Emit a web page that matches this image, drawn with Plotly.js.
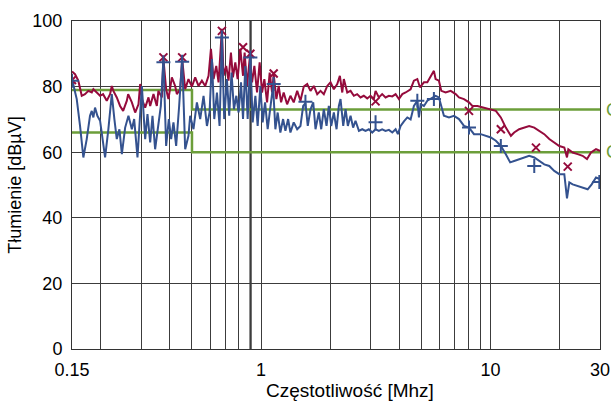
<!DOCTYPE html>
<html>
<head>
<meta charset="utf-8">
<script src="https://cdn.plot.ly/plotly-3.0.1.min.js"></script>
<style>
  html, body { margin: 0; padding: 0; background: #fff; }
  #chart { width: 611px; height: 405px; }
</style>
</head>
<body>
<div id="chart"></div>
<script>
// ---- Data (frequency in MHz, level in dBµV) ----
const freqPeak = [0.150,0.1546,0.1598,0.1654,0.1709,0.1767,0.1829,0.1859,0.1923,0.1988,
  0.2049,0.2126,0.2198,0.2236,0.2272,0.2351,0.2430,0.2506,0.2601,0.2635,
  0.2735,0.2827,0.2923,0.2973,0.3024,0.3126,0.3232,0.3287,0.3398,0.3514,
  0.3570,0.3695,0.3754,0.3858,0.3948,0.4085,0.4223,0.4296,0.4440,0.4531,
  0.4670,0.4827,0.4995,0.5164,0.5337,0.5523,0.5711,0.5904,0.6048,0.6209,
  0.6379,0.6529,0.6751,0.6861,0.7050,0.7214,0.7391,0.7540,0.7723,0.7904,
  0.8121,0.8345,0.8480,0.8689,0.8919,0.9137,0.9350,0.9606,0.9860,1.0101,
  1.0337,1.0621,1.0904,1.1168,1.1349,1.1661,1.1934,1.2226,1.2549,1.2987,
  1.3427,1.3879,1.437,1.485,1.535,1.589,1.642,1.698,1.757,1.816,
  1.877,1.943,2.008,2.076,2.148,2.205,2.259,2.295,2.375,2.455,
  2.537,2.622,2.713,2.804,2.902,3.000,3.101,3.155,3.261,3.371,
  3.488,3.607,3.732,3.858,3.988,4.127,4.266,4.485,4.636,4.798,
  4.925,5.127,5.305,5.484,5.666,5.764,5.958,6.103,6.373,6.704,
  7.050,7.287,7.662,8.057,8.337,8.768,9.369,10.03,10.55,11.09,
  11.66,12.27,12.68,13.33,14.02,14.74,15.51,16.31,17.15,18.03,
  18.96,19.94,20.97,21.54,21.83,22.81,23.97,25.19,26.33,27.41,
  28.82,30.0];
const peak = [84.6,83.8,81.8,77.2,77.7,78.7,78.2,79.2,78.2,77.2,
  77.7,75.7,77.7,80.2,78.7,76.7,74.1,72.6,75.7,77.7,
  75.2,72.1,74.6,80.8,76.2,73.6,76.7,74.1,77.7,74.1,
  78.7,76.7,88.4,79.2,76.2,82.8,80.2,77.7,79.2,88.4,
  79.2,82.3,80.0,82.8,80.2,81.8,80.2,83.3,91.5,82.3,
  86.3,81.3,97.6,83.3,86.3,81.8,90.4,82.8,87.4,82.3,
  91.5,83.3,90.4,80.2,88.4,81.3,86.3,78.2,87.4,78.2,
  82.3,75.2,84.3,78.2,83.8,76.2,80.2,75.2,78.2,74.6,
  77.2,75.2,78.7,75.7,80.0,80.8,78.7,80.2,77.7,78.7,
  77.7,80.2,81.3,79.2,80.8,83.3,78.2,82.3,78.2,78.7,
  77.2,77.7,76.7,77.2,76.4,77.2,76.2,78.7,76.7,77.7,
  76.7,77.2,77.0,77.7,76.2,77.7,78.2,79.2,81.8,82.3,
  79.8,81.3,81.3,83.3,84.8,82.3,81.8,78.7,78.2,78.7,
  77.7,76.7,76.2,75.2,74.1,74.1,73.6,73.1,72.6,70.6,
  67.5,65.0,66.0,67.0,67.5,68.0,67.5,66.5,65.5,64.0,
  63.0,61.9,61.4,58.4,60.9,59.9,59.4,58.9,57.9,59.9,
  60.9,60.4];

const freqAvg = [0.150,0.1573,0.1626,0.1681,0.1739,0.1797,0.1829,0.1859,0.1890,0.1935,
  0.1988,0.2043,0.2091,0.2161,0.2236,0.2295,0.2351,0.2414,0.2474,0.2557,
  0.2643,0.2735,0.2799,0.2894,0.2973,0.3024,0.3126,0.3199,0.3287,0.3364,
  0.3454,0.3570,0.3658,0.3754,0.3858,0.3964,0.4057,0.4152,0.4266,0.4396,
  0.4531,0.4670,0.4827,0.4910,0.5076,0.5253,0.5430,0.5615,0.5810,0.5964,
  0.6110,0.6253,0.6424,0.6595,0.6751,0.6909,0.7099,0.7265,0.7435,0.7617,
  0.7802,0.7984,0.8179,0.8345,0.8540,0.8742,0.8982,0.9193,0.9446,0.9664,
  0.993,1.0162,1.0410,1.0686,1.0980,1.1281,1.1546,1.1815,1.2140,1.2475,
  1.2769,1.3120,1.3427,1.3879,1.437,1.485,1.526,1.561,1.598,1.642,
  1.688,1.727,1.785,1.829,1.877,1.929,1.974,2.022,2.076,2.133,
  2.183,2.220,2.281,2.335,2.389,2.455,2.519,2.580,2.670,2.760,
  2.853,2.949,3.052,3.155,3.261,3.371,3.488,3.607,3.732,3.858,
  3.948,4.057,4.194,4.339,4.485,4.636,4.798,4.876,4.960,5.127,
  5.305,5.578,5.764,5.958,6.103,6.265,6.591,6.930,7.287,7.662,
  8.057,8.472,9.064,9.531,10.03,10.55,11.09,11.66,12.18,12.68,
  13.33,14.02,14.74,15.51,16.31,17.15,18.03,18.96,19.94,20.97,
  21.54,22.05,22.81,23.97,25.19,26.51,27.60,28.82,30.0];
const avg = [82.3,76.2,68.0,58.4,64.0,71.1,72.6,70.6,73.6,71.1,
  69.6,64.0,58.4,67.0,77.7,70.1,64.0,67.0,59.4,67.5,
  71.1,67.0,70.1,58.4,70.1,80.2,64.0,71.6,63.0,71.1,
  60.9,69.6,74.1,88.4,61.9,70.1,64.0,69.1,61.9,74.1,
  88.4,60.9,65.0,71.1,67.0,75.2,70.1,77.2,68.0,72.1,
  88.4,70.1,78.2,68.0,95.5,70.1,82.3,71.1,84.3,73.1,
  77.2,72.1,81.3,70.1,86.3,70.1,88.9,69.1,77.2,68.0,
  80.2,69.1,75.2,67.0,74.1,80.2,67.0,72.1,66.0,70.1,
  66.5,70.1,66.0,69.1,67.0,68.0,74.1,75.0,68.0,73.0,
  75.2,67.0,72.1,67.0,73.1,68.0,74.1,68.0,72.1,67.0,
  74.1,76.2,68.0,73.1,68.0,71.1,67.5,69.6,66.5,67.0,
  66.5,67.0,66.0,67.0,66.5,67.0,66.5,66.8,66.0,67.0,
  65.5,68.0,69.4,70.6,70.0,74.1,75.7,70.6,74.6,74.1,
  75.7,76.7,77.2,76.7,74.1,71.1,70.6,71.1,70.1,68.0,
  67.5,65.5,65.5,65.0,64.5,63.5,61.9,59.4,56.9,57.3,
  57.9,58.4,58.9,58.4,57.3,56.3,55.8,54.3,53.3,53.3,
  45.9,50.8,50.2,49.7,49.2,48.7,50.2,52.3,51.8];

// Final measurement points
const qpFreq = [0.150,0.3754,0.4531,0.6751,0.8345,0.8982,1.1349,3.155,8.057,11.09,15.78,21.70];
const qpVal  = [82.0,88.9,88.9,97.0,92.0,90.0,84.0,75.5,72.6,67.0,61.4,55.6];
const avFreq = [0.150,0.3754,0.4531,0.6751,0.8982,1.1349,1.561,3.155,4.798,5.666,8.057,11.09,15.51,29.8];
const avVal  = [81.8,87.4,87.6,95.0,88.9,80.8,75.4,69.1,75.7,76.2,67.5,61.9,55.8,50.9];

// Limit lines (class A)
const limitFreq = [0.15, 0.5, 30];
const limitQP = [79, 73, 73];
const limitAV = [66, 60, 60];
const limitLabels = ['Class A QP', 'Class A AV'];

// Axis ticks and titles
const xTickVals = [0.15, 1, 10, 30];
const xTickText = ['0.15', '1', '10', '30'];
const xMinorGrid = [0.2,0.3,0.4,0.5,0.6,0.7,0.8,0.9,2,3,4,5,6,7,8,9,20];
const yTickVals = [0, 20, 40, 60, 80, 100];
const xTitle = 'Częstotliwość [Mhz]';
const yTitle = 'Tłumienie [dBµV]';

// ---- Styles ----
const RED = '#950b3c';
const BLUE = '#34528f';
const GREEN = '#6c9e3a';
const GRID = '#3c3c3c';
const FONT = 'Liberation Sans, Arial, sans-serif';

const traces = [
  { x: limitFreq, y: limitQP, mode: 'lines', line: { color: GREEN, width: 2.5, shape: 'hv' }, hoverinfo: 'skip' },
  { x: limitFreq, y: limitAV, mode: 'lines', line: { color: GREEN, width: 2.5, shape: 'hv' }, hoverinfo: 'skip' },
  { x: freqPeak, y: peak, mode: 'lines', line: { color: RED, width: 2 } },
  { x: freqAvg, y: avg, mode: 'lines', line: { color: BLUE, width: 2 } },
  { x: qpFreq, y: qpVal, mode: 'markers',
    marker: { symbol: 'x-thin', size: 8, color: RED, line: { color: RED, width: 2 } } },
  { x: avFreq, y: avVal, mode: 'markers',
    marker: { symbol: 'cross-thin', size: 10, color: BLUE, line: { color: BLUE, width: 2 } } }
];

const layout = {
  width: 611, height: 405,
  margin: { l: 72, r: 11, t: 21, b: 56, pad: 0 },
  paper_bgcolor: '#ffffff', plot_bgcolor: '#ffffff',
  showlegend: false,
  font: { family: FONT, color: '#000', size: 18 },
  xaxis: {
    type: 'log',
    range: [Math.log10(0.15), Math.log10(30)],
    tickmode: 'array', tickvals: xTickVals, ticktext: xTickText,
    tickfont: { size: 18, family: FONT, color: '#000' },
    ticks: 'outside', ticklen: 4, tickcolor: 'rgba(0,0,0,0)',
    showgrid: true, gridcolor: GRID, gridwidth: 1,
    minor: { tickmode: 'array', tickvals: xMinorGrid, showgrid: true, gridcolor: GRID, gridwidth: 1, ticks: '' },
    showline: true, linecolor: '#333', linewidth: 1, mirror: true,
    zeroline: false
  },
  yaxis: {
    range: [0, 100],
    tickmode: 'array', tickvals: yTickVals,
    tickfont: { size: 18, family: FONT, color: '#000' },
    ticks: 'outside', ticklen: 5, tickcolor: 'rgba(0,0,0,0)',
    showgrid: true, gridcolor: GRID, gridwidth: 1,
    showline: true, linecolor: '#333', linewidth: 1, mirror: true,
    zeroline: false,
    title: { text: yTitle, font: { size: 18, family: FONT, color: '#000' }, standoff: 6 }
  },
  shapes: [
    { type: 'line', xref: 'x', yref: 'paper', x0: 0.9, x1: 0.9, y0: 0, y1: 1,
      line: { color: '#000', width: 2 }, layer: 'below' }
  ],
  annotations: [
    { x: 0.5265, y: -0.128, xref: 'paper', yref: 'paper', text: xTitle,
      showarrow: false, xanchor: 'center', yanchor: 'middle',
      font: { size: 19, color: '#000', family: FONT } },
    { x: Math.log10(limitFreq[2]), y: limitQP[2], xref: 'x', yref: 'y', text: limitLabels[0],
      showarrow: false, xanchor: 'left', yanchor: 'middle', xshift: 4,
      font: { size: 18, color: GREEN, family: FONT } },
    { x: Math.log10(limitFreq[2]), y: limitAV[2], xref: 'x', yref: 'y', text: limitLabels[1],
      showarrow: false, xanchor: 'left', yanchor: 'middle', xshift: 4,
      font: { size: 18, color: GREEN, family: FONT } }
  ]
};

Plotly.newPlot('chart', traces, layout, { staticPlot: true, displayModeBar: false });
</script>
</body>
</html>
